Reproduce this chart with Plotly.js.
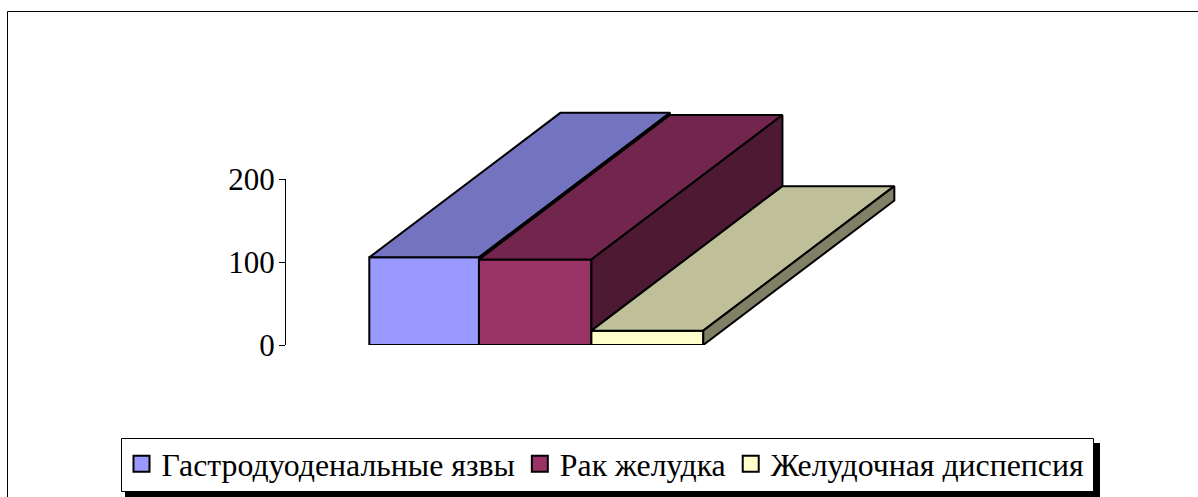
<!DOCTYPE html>
<html>
<head>
<meta charset="utf-8">
<script src="https://cdn.plot.ly/plotly-3.0.1.min.js"></script>
<style>html,body{margin:0;padding:0;background:#fff;overflow:hidden}#chart{width:1198px;height:497px}</style>
</head>
<body>
<div id="chart"></div>
<script>
const seriesNames = ['Гастродуоденальные язвы', 'Рак желудка', 'Желудочная диспепсия'];
const seriesValues = [105.6, 103, 17.3];
const tickValues = [0, 100, 200];
const frontColors = ['#9999FF', '#993366', '#FFFFCC'];
const topColors = ['#7373BF', '#73264D', '#BFBF99'];
const sideColors = ['#4D4D80', '#4D1933', '#808066'];

const barEdges = [0, 0.985, 1.995, 3];
const depthX = 1.716;
const depthY = 174.1;
const W = 1198, H = 497;
const plot = {l: 286, right: 900, t: 96, b: 152};
const plotH = H - plot.t - plot.b;
const px = v => v / W;
const py = v => (H - plot.b - v) / plotH;
const edge = {color: '#000', width: 2};

const traces = [];
seriesNames.forEach((name, i) => {
  const a = barEdges[i], b = barEdges[i + 1];
  traces.push({type: 'bar', x: [(a + b) / 2], y: [seriesValues[i]], width: b - a,
    marker: {color: frontColors[i], line: edge}, showlegend: false, hoverinfo: 'skip'});
});
seriesNames.forEach((name, i) => {
  const v = seriesValues[i], a = barEdges[i], b = barEdges[i + 1];
  const lower = i + 1 < seriesValues.length ? seriesValues[i + 1] : 0;
  traces.push({type: 'scatter', mode: 'lines', fill: 'toself', fillcolor: topColors[i],
    x: [a, b, b + depthX, a + depthX, a], y: [v, v, v + depthY, v + depthY, v],
    line: edge, showlegend: false, hoverinfo: 'skip'});
  traces.push({type: 'scatter', mode: 'lines', fill: 'toself', fillcolor: sideColors[i],
    x: [b, b + depthX, b + depthX, b, b],
    y: [v, v + depthY, lower + depthY, lower, v],
    line: edge, showlegend: false, hoverinfo: 'skip'});
});
seriesNames.forEach((name, i) => {
  traces.push({type: 'scatter', mode: 'markers', name: name, x: [null], y: [null],
    marker: {symbol: 'square', size: 16, color: frontColors[i], line: {color: '#000', width: 2}},
    showlegend: true, hoverinfo: 'skip'});
});

const layout = {
  width: W, height: H,
  paper_bgcolor: '#fff', plot_bgcolor: 'rgba(0,0,0,0)',
  margin: {l: 0, r: 0, t: plot.t, b: plot.b, pad: 0, autoexpand: false},
  barmode: 'overlay',
  font: {family: '"Liberation Serif", serif', color: '#000'},
  xaxis: {domain: [px(plot.l), px(plot.right)], range: [(plot.l - 369.3) / 111.33, (plot.right - 369.3) / 111.33],
    visible: false, fixedrange: true},
  yaxis: {range: [0, plotH / 0.83], tickvals: tickValues, ticktext: tickValues.map(String), ticks: 'outside', ticklen: 6,
    tickwidth: 1, tickcolor: '#000', showline: false, showgrid: false, zeroline: false, ticklabelstandoff: -2,
    tickfont: {size: 31, color: '#000', family: '"Liberation Serif", serif'}, fixedrange: true},
  legend: {orientation: 'h', x: px(121.5), y: py(436.5), xanchor: 'left', yanchor: 'top',
    bgcolor: 'rgba(0,0,0,0)', borderwidth: 0, itemsizing: 'trace', itemclick: false, itemdoubleclick: false,
    font: {size: 31.8, color: '#000', family: '"Liberation Serif", serif'}},
  shapes: [
    {type: 'rect', xref: 'paper', yref: 'paper', layer: 'below', x0: px(7.5), x1: px(1230), y0: py(11.5), y1: py(530),
      line: {color: '#000', width: 1}, fillcolor: 'rgba(0,0,0,0)'},
    {type: 'rect', xref: 'paper', yref: 'paper', layer: 'below', x0: px(125), x1: px(1100), y0: py(443), y1: py(497),
      line: {width: 0}, fillcolor: '#000'},
    {type: 'rect', xref: 'paper', yref: 'paper', layer: 'below', x0: px(121.5), x1: px(1093.5), y0: py(438.5), y1: py(491.5),
      line: {color: '#000', width: 1}, fillcolor: '#fff'},
    {type: 'line', xref: 'paper', yref: 'y', layer: 'below', x0: px(285.5), x1: px(285.5), y0: tickValues[0], y1: tickValues[2],
      line: {color: '#000', width: 1}}
  ]
};
Plotly.newPlot('chart', traces, layout, {displayModeBar: false});
</script>
</body>
</html>
